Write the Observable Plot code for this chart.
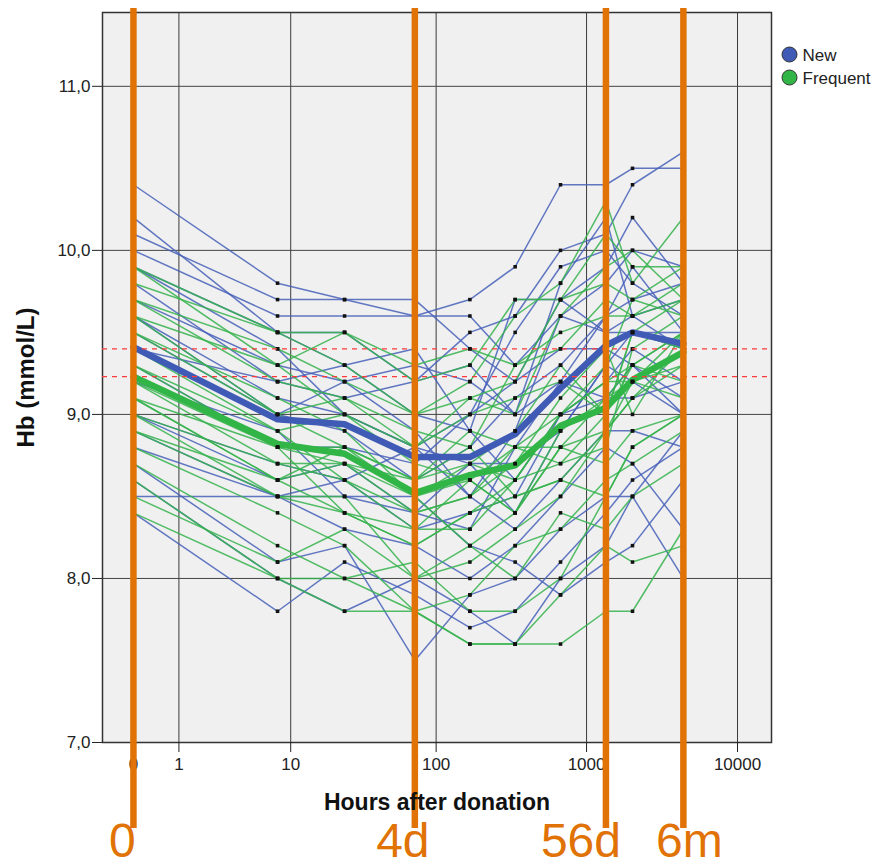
<!DOCTYPE html>
<html>
<head>
<meta charset="utf-8">
<script src="https://cdn.jsdelivr.net/npm/d3@7"></script>
<script src="https://cdn.jsdelivr.net/npm/@observablehq/plot@0.6"></script>
<style>
  html, body { margin: 0; padding: 0; background: #ffffff; }
  #chart { width: 878px; height: 868px; }
</style>
</head>
<body>
<div id="chart"></div>
<script>
// ---- data ----
const hours = [0, 8, 24, 72, 168, 336, 672, 1344, 2016, 4380];

const groups = ["New", "Frequent"];

const newSubjects = [
  [10.4, 9.8, 9.7, 9.6, 9.7, 9.9, 10.4, 10.4, 10.5, 10.5],
  [10.2, 9.5, 9.5, 9.2, 9.5, 9.6, 10.0, 10.1, 10.4, 10.6],
  [10.1, 9.7, 9.7, 9.7, 9.4, 9.2, 9.7, 9.9, 10.2, 9.8],
  [10.0, 9.6, 9.6, 9.6, 9.6, 9.3, 9.6, 9.8, 10.0, 9.9],
  [9.9, 9.4, 9.0, 8.8, 9.0, 9.5, 9.9, 10.0, 9.8, 9.6],
  [9.7, 9.3, 9.2, 9.3, 9.2, 9.0, 9.2, 9.6, 9.9, 9.5],
  [9.6, 9.0, 8.9, 8.6, 8.8, 9.1, 9.3, 9.6, 9.7, 9.8],
  [9.5, 9.0, 9.2, 8.9, 8.5, 8.9, 9.6, 9.5, 9.6, 9.4],
  [9.4, 9.2, 9.3, 9.0, 8.9, 8.6, 9.0, 9.2, 9.4, 9.2],
  [9.3, 8.8, 8.8, 8.7, 9.0, 9.2, 9.4, 9.4, 9.3, 9.1],
  [9.2, 8.9, 8.5, 8.4, 8.7, 8.4, 8.9, 9.3, 9.5, 9.4],
  [9.0, 8.6, 8.7, 8.4, 8.3, 8.8, 9.2, 9.1, 9.1, 9.2],
  [9.0, 8.7, 8.6, 8.8, 8.5, 8.3, 8.6, 8.9, 8.9, 8.8],
  [8.9, 8.5, 8.3, 8.2, 8.0, 8.2, 8.5, 8.8, 8.7, 8.3],
  [8.8, 8.5, 8.6, 8.3, 8.4, 8.5, 9.0, 9.1, 9.3, 9.0],
  [8.7, 8.1, 8.2, 7.5, 7.9, 8.0, 8.3, 8.5, 8.5, 8.0],
  [8.5, 8.5, 8.5, 8.5, 8.2, 8.1, 7.9, 8.1, 8.2, 8.6],
  [8.4, 7.8, 8.1, 7.9, 7.7, 7.8, 8.1, 8.4, 8.6, 8.8],
  [9.8, 9.2, 9.1, 9.2, 9.3, 9.0, 9.8, 10.2, 9.6, 9.7],
  [9.9, 9.5, 9.3, 9.4, 8.9, 9.7, 9.7, 9.5, 9.5, 9.5],
  [9.6, 9.1, 9.0, 8.8, 8.7, 8.7, 8.9, 9.3, 9.2, 9.0],
  [8.6, 8.0, 7.8, 8.0, 7.8, 7.6, 8.0, 8.2, 8.5, 8.9]
];

const frequentSubjects = [
  [9.9, 9.5, 9.3, 9.0, 9.2, 9.6, 9.8, 10.3, 9.8, 10.2],
  [9.9, 9.3, 9.0, 8.8, 9.1, 9.0, 9.6, 9.9, 10.0, 9.7],
  [9.8, 9.5, 9.5, 9.2, 9.3, 9.7, 9.7, 9.8, 9.7, 9.6],
  [9.7, 9.2, 9.1, 8.9, 8.8, 9.3, 9.4, 9.7, 9.6, 9.8],
  [9.6, 9.0, 8.8, 8.6, 8.9, 8.8, 9.0, 9.2, 9.3, 9.5],
  [9.5, 9.1, 8.9, 8.5, 8.7, 8.9, 9.3, 9.0, 9.5, 9.7],
  [9.4, 8.9, 9.0, 8.7, 8.6, 8.4, 8.8, 9.1, 9.2, 9.3],
  [9.3, 8.8, 8.7, 8.4, 8.5, 8.7, 9.1, 9.4, 9.0, 9.5],
  [9.3, 8.9, 8.6, 8.3, 8.3, 8.6, 8.7, 8.8, 9.4, 9.6],
  [9.2, 8.7, 8.7, 8.6, 8.8, 8.5, 8.6, 8.9, 9.2, 9.1],
  [9.1, 8.8, 8.4, 8.2, 8.4, 8.6, 9.0, 9.3, 9.7, 9.9],
  [9.1, 8.6, 8.8, 8.5, 8.2, 8.4, 8.8, 8.7, 8.9, 9.0],
  [9.0, 8.5, 8.5, 8.0, 8.1, 8.3, 8.5, 8.9, 9.1, 9.4],
  [8.9, 8.6, 8.4, 8.3, 8.6, 8.8, 8.7, 9.0, 9.3, 9.2],
  [8.8, 8.4, 8.2, 7.8, 7.9, 8.2, 8.3, 8.6, 8.7, 8.9],
  [8.7, 8.2, 8.0, 7.8, 7.6, 7.6, 7.6, 7.8, 7.8, 8.3],
  [8.6, 8.0, 8.0, 8.1, 7.8, 7.8, 8.0, 8.5, 8.8, 9.0],
  [8.5, 8.1, 8.3, 8.0, 8.2, 8.0, 8.4, 8.3, 8.5, 8.7],
  [8.4, 8.0, 7.8, 7.8, 7.6, 7.6, 7.9, 8.2, 8.1, 8.2],
  [9.6, 9.3, 9.5, 9.3, 9.4, 9.3, 9.5, 9.6, 9.6, 9.7],
  [9.5, 9.0, 9.1, 8.8, 9.0, 9.1, 9.2, 9.0, 9.5, 9.4],
  [9.2, 8.8, 8.8, 8.6, 8.7, 8.6, 9.0, 9.2, 9.2, 9.5],
  [9.0, 8.7, 8.6, 8.4, 8.5, 8.8, 8.8, 8.9, 9.1, 9.3],
  [8.9, 8.5, 8.4, 8.2, 8.4, 8.5, 8.6, 8.5, 8.8, 9.0],
  [9.7, 9.4, 9.2, 9.0, 9.1, 9.2, 9.7, 10.1, 9.9, 9.9],
  [9.1, 8.6, 8.7, 8.5, 8.6, 8.4, 8.9, 9.1, 9.3, 9.5]
];

const newMean = [9.41, 8.97, 8.94, 8.74, 8.74, 8.88, 9.16, 9.42, 9.50, 9.43];
const frequentMean = [9.23, 8.82, 8.76, 8.52, 8.63, 8.69, 8.93, 9.04, 9.21, 9.38];

const baselineRefs = [9.40, 9.23];

const phaseHours = [0, 72, 1344, 4380];
const phaseLabels = ["0", "4d", "56d", "6m"];

const xTicks = [0, 1, 10, 100, 1000, 10000];
const yTicks = [7, 8, 9, 10, 11];
const gridX = [1, 10, 100, 1000, 10000];
const gridY = [8, 9, 10, 11];

// ---- styling ----
const blue = "#4660b8";
const green = "#35b34c";
const blueMean = "#3f5bb5";
const greenMean = "#30b546";
const orange = "#e07206";

function flatten(subjects, group) {
  const out = [];
  subjects.forEach((vals, s) => {
    vals.forEach((v, i) => out.push({id: group + s, group, hour: hours[i], hb: v}));
  });
  return out;
}
const newPts = flatten(newSubjects, "New");
const freqPts = flatten(frequentSubjects, "Frequent");
const newMeanPts = newMean.map((v, i) => ({hour: hours[i], hb: v}));
const freqMeanPts = frequentMean.map((v, i) => ({hour: hours[i], hb: v}));
const phases = phaseHours.map((h, i) => ({hour: h, label: phaseLabels[i]}));
const labelShift = {"0": -11, "4d": -12, "56d": -25, "6m": 6};
const legendColors = {"New": blueMean, "Frequent": greenMean};

const chart = Plot.plot({
  width: 878,
  height: 868,
  marginLeft: 102,
  marginRight: 107,
  marginTop: 12,
  marginBottom: 126,
  style: {fontFamily: "'Liberation Sans', Arial, sans-serif", fontSize: "17px", background: "#ffffff", overflow: "visible"},
  x: {type: "symlog", constant: 1, domain: [-0.603, 16790]},
  y: {domain: [7, 11.45]},
  marks: [
    Plot.frame({fill: "#f0f0f0", stroke: null}),
    Plot.ruleX(gridX, {stroke: "#3a3a3a", strokeWidth: 1}),
    Plot.ruleY(gridY, {stroke: "#444", strokeWidth: 1}),
    Plot.frame({stroke: "#333", strokeWidth: 1.5}),
    Plot.axisX({ticks: xTicks, tickFormat: d => String(d), tickSize: 10, tickPadding: 5, label: null, color: "#222", fontSize: 17}),
    Plot.axisY({ticks: yTicks, tickFormat: d => d.toFixed(1).replace(".", ","), tickSize: 10, tickPadding: 2, label: null, color: "#222", fontSize: 17}),
    Plot.line(newPts, {x: "hour", y: "hb", z: "id", stroke: blue, strokeWidth: 1.5, strokeOpacity: 0.85}),
    Plot.line(freqPts, {x: "hour", y: "hb", z: "id", stroke: green, strokeWidth: 1.5, strokeOpacity: 0.85}),
    Plot.line(newMeanPts, {x: "hour", y: "hb", stroke: blueMean, strokeWidth: 6.5}),
    Plot.line(freqMeanPts, {x: "hour", y: "hb", stroke: greenMean, strokeWidth: 6.5}),
    Plot.dot(newPts.concat(freqPts), {x: "hour", y: "hb", symbol: "square", r: 2, fill: "#111", stroke: null}),
    Plot.ruleY(baselineRefs, {stroke: "#ff3b3b", strokeWidth: 1.3, strokeDasharray: "5,5"}),
    Plot.ruleX(phases, {x: "hour", stroke: orange, strokeWidth: 6.5, insetTop: -4, insetBottom: -86}),
    ...phases.map(p => Plot.text([p], {x: "hour", text: "label", frameAnchor: "bottom", dy: 99, dx: labelShift[p.label], textAnchor: "middle", lineAnchor: "middle", fill: orange, fontSize: 48, fontFamily: "'Liberation Sans', Arial, sans-serif"})),
    Plot.text(["Hours after donation"], {frameAnchor: "bottom", dy: 60, textAnchor: "middle", lineAnchor: "middle", fontWeight: "bold", fontSize: 23, fill: "#111"}),
    Plot.text(["Hb (mmol/L)"], {frameAnchor: "left", dx: -76, rotate: -90, textAnchor: "middle", lineAnchor: "middle", fontWeight: "bold", fontSize: 24, fill: "#111"}),
    ...groups.map((g, i) => Plot.dot([g], {frameAnchor: "top-right", dx: 18, dy: 42 + i * 23, r: 7.5, fill: legendColors[g], stroke: "#333", strokeWidth: 1})),
    ...groups.map((g, i) => Plot.text([g], {frameAnchor: "top-right", dx: 31, dy: 43 + i * 23, textAnchor: "start", lineAnchor: "middle", fontSize: 17, fill: "#222"}))
  ]
});
document.getElementById("chart").appendChild(chart);
</script>
</body>
</html>
